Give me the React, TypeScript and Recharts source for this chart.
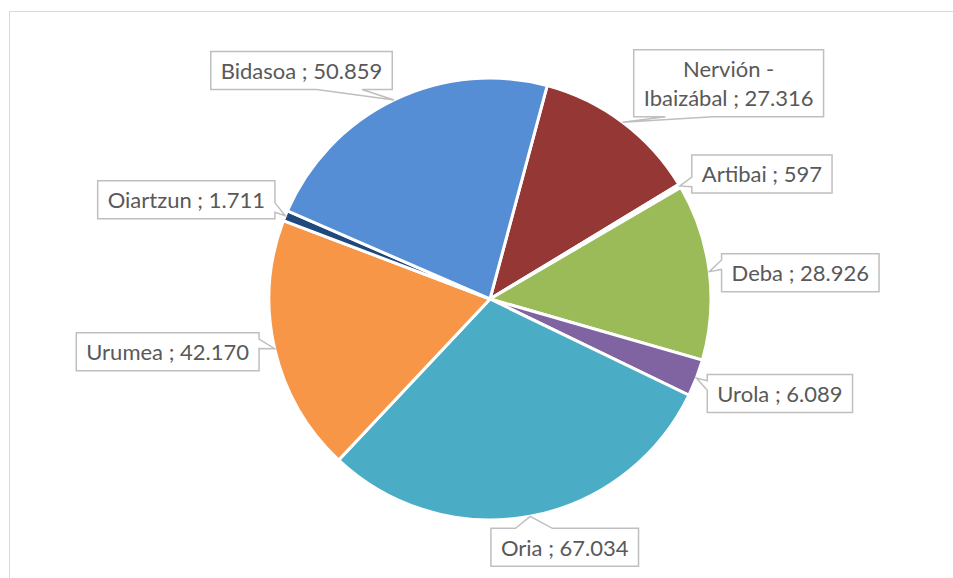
import { Cell, Pie, PieChart } from 'recharts'

const regions = ['Nervión - Ibaizábal', 'Artibai', 'Deba', 'Urola', 'Oria', 'Urumea', 'Oiartzun', 'Bidasoa']
const volumes = [27316, 597, 28926, 6089, 67034, 42170, 1711, 50859]
const sliceColors = ['#953735', '#FFFFFF', '#9BBB59', '#8064A2', '#4BACC6', '#F79646', '#1F497D', '#558ED5']

// where each callout box sits, relative to the point its tail touches
const labelOffsets = [
  [106, -39],
  [82, -12],
  [91, 1],
  [83.5, 15.5],
  [34.5, 31],
  [-107, 3],
  [-99, -16],
  [-92.5, -29.5],
]

const data = regions.map((name, i) => ({ name, value: volumes[i] }))

const FONT_SIZE = 22
const FONT = `${FONT_SIZE}px Lato`
const LINE_H = 29
const RAD = Math.PI / 180

let ctx: CanvasRenderingContext2D | null = null
const measure = (s: string) => {
  if (!ctx) ctx = document.createElement('canvas').getContext('2d')
  ctx!.font = FONT
  return ctx!.measureText(s).width
}

const fmt = (v: number) => String(v).replace(/\B(?=(\d{3})+(?!\d))/g, '.')

// break long labels in two, picking the most balanced split
const wrap = (text: string, maxW = 200) => {
  if (measure(text) <= maxW) return [text]
  const words = text.split(' ')
  let best = [text]
  let bestW = Infinity
  for (let i = 1; i < words.length; i++) {
    const a = words.slice(0, i).join(' ')
    const b = words.slice(i).join(' ')
    const w = Math.max(measure(a), measure(b))
    if (w < bestW) {
      bestW = w
      best = [a, b]
    }
  }
  return best
}

const calloutPath = (x: number, y: number, w: number, h: number, tx: number, ty: number) => {
  const dx = tx - (x + w / 2)
  const dy = ty - (y + h / 2)
  const side = Math.abs((dx * h) / w) > Math.abs(dy)
  if (!side) {
    const b1 = x + (w * (dx < 0 ? 2 : 7)) / 12
    const b2 = b1 + w / 4
    if (dy > 0) return `M${x},${y}H${x + w}V${y + h}H${b2}L${tx},${ty}L${b1},${y + h}H${x}Z`
    return `M${x},${y}H${b1}L${tx},${ty}L${b2},${y}H${x + w}V${y + h}H${x}Z`
  }
  const y1 = y + (h * (dy < 0 ? 2 : 7)) / 12
  const y2 = y1 + h / 4
  if (dx < 0) return `M${x},${y}H${x + w}V${y + h}H${x}V${y2}L${tx},${ty}L${x},${y1}Z`
  return `M${x},${y}H${x + w}V${y1}L${tx},${ty}L${x + w},${y2}V${y + h}H${x}Z`
}

const renderLabel = (props: any) => {
  const { cx, cy, midAngle, outerRadius, index, name, value } = props
  const tx = cx + outerRadius * Math.cos(-midAngle * RAD)
  const ty = cy + outerRadius * Math.sin(-midAngle * RAD)
  const [ox, oy] = labelOffsets[index]
  const lines = wrap(`${name} ; ${fmt(value)}`)
  const w = Math.max(...lines.map(measure)) + 20
  const h = lines.length * LINE_H + 9
  const x = tx + ox - w / 2
  const y = ty + oy - h / 2
  return (
    <g key={`lbl-${index}`}>
      <path d={calloutPath(x, y, w, h, tx, ty)} fill="#fff" stroke="#BFBFBF" strokeWidth={1.5} />
      {lines.map((ln, i) => (
        <text
          key={i}
          x={x + w / 2}
          y={y + 4.5 + LINE_H / 2 + i * LINE_H}
          textAnchor="middle"
          dominantBaseline="central"
          fill="#595959"
          fontFamily="Lato"
          fontSize={FONT_SIZE}
        >
          {ln}
        </text>
      ))}
    </g>
  )
}

export default function App() {
  return (
    <div style={{ position: 'absolute', left: 0, top: 0, width: 953, height: 578, background: '#fff' }}>
      <div
        style={{
          position: 'absolute',
          left: 8.5,
          top: 10.5,
          width: 2000,
          height: 2000,
          borderTop: '1.5px solid #D9D9D9',
          borderLeft: '1.5px solid #D9D9D9',
        }}
      />
      <div style={{ position: 'absolute', left: 0, top: 0 }}>
        <PieChart width={953} height={578} margin={{ top: 0, right: 0, bottom: 0, left: 0 }}>
          <Pie
            data={data}
            dataKey="value"
            nameKey="name"
            cx={490}
            cy={299}
            outerRadius={221}
            startAngle={75}
            endAngle={-285}
            stroke="#fff"
            strokeWidth={3}
            label={renderLabel}
            labelLine={false}
            isAnimationActive={false}
          >
            {data.map((d, i) => (
              <Cell key={d.name} fill={sliceColors[i]} />
            ))}
          </Pie>
        </PieChart>
      </div>
    </div>
  )
}
